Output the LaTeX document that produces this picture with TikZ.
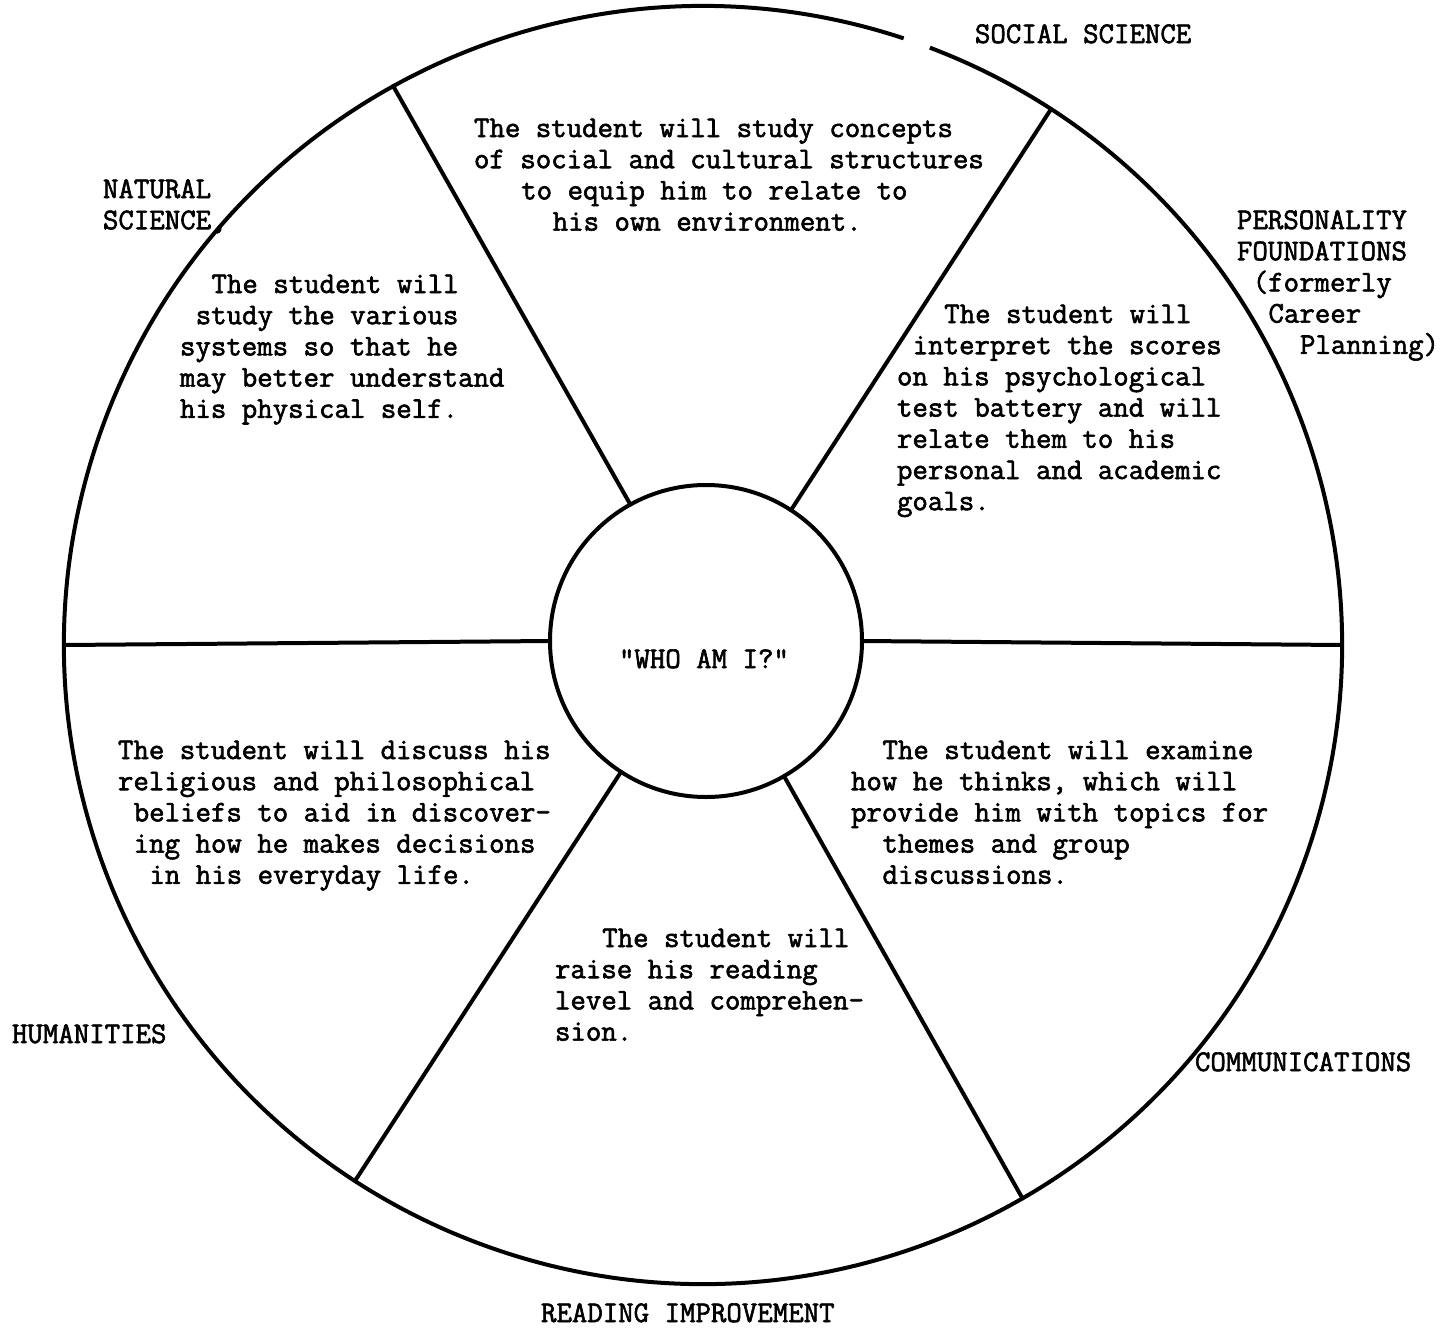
\documentclass[tikz,border=0pt]{standalone}
\usepackage{fontspec}
\newfontfamily\mono[FakeBold=2]{Latin Modern Mono}
\newlength\chw
\setlength\chw{15.75pt}
\newcommand\ind[1]{\hspace*{#1\chw}}
\newcommand\blk[1]{\begin{tabular}[t]{@{}l@{}}#1\end{tabular}}
\begin{document}
\begin{tikzpicture}[x=1pt,y=-1pt,line width=4pt,
  txt/.style={font=\mono\fontsize{30}{31.2}\selectfont, inner sep=0pt, anchor=base west},
  ring/.style={circle, inner sep=0pt, outer sep=0pt},
  spoke/.style={line width=4pt, line cap=round}]
\useasboundingbox (0,0) rectangle (1449,1328);
\fill[white] (0,0) rectangle (1449,1328);
% circles
\node[ring, minimum size=1278pt] (outer) at (703,645) {};
\node[ring, draw, line width=4pt, minimum size=312pt] (inner) at (706,641) {};
\draw[line width=4pt] (outer.center) ++(-69.2:639) arc[start angle=-69.2, end angle=288.3, radius=639];
% spokes
\draw[spoke] (inner.119) -- (outer.119);
\draw[spoke] (inner.57.5) -- (outer.57.5);
\draw[spoke] (inner.180) -- (outer.180);
\draw[spoke] (inner.0) -- (outer.0);
\draw[spoke] (inner.237.7) -- (outer.237.7);
\draw[spoke] (inner.300.2) -- (outer.300.2);
% centre
\node[txt] (who) at (617,668) {"WHO AM I?"};
% sector texts
\node[txt] (tsoc) at (472,137) {\blk{The student will study concepts\\of social and cultural structures\\\ind3to equip him to relate to\\\ind5his own environment.}};
\node[txt] (tnat) at (178,293) {\blk{\ind2The student will\\\ind1study the various\\systems so that he\\may better understand\\his physical self.}};
\node[txt] (tper) at (895,323) {\blk{\ind3The student will\\\ind1interpret the scores\\on his psychological\\test battery and will\\relate them to his\\personal and academic\\goals.}};
\node[txt] (thum) at (116,759) {\blk{The student will discuss his\\religious and philosophical\\\ind1beliefs to aid in discover-\\\ind1ing how he makes decisions\\\ind2in his everyday life.}};
\node[txt] (tcom) at (849,759) {\blk{\ind2The student will examine\\how he thinks, which will\\provide him with topics for\\\ind2themes and group\\\ind2discussions.}};
\node[txt] (trea) at (553,947) {\blk{\ind3The student will\\raise his reading\\level and comprehen-\\sion.}};
% labels
\node[txt] (lsoc) at (973,43) {SOCIAL SCIENCE};
\node[txt] (lnat) at (101,198) {\blk{NATURAL\\SCIENCE,}};
\node[txt] (lper) at (1235,229) {\blk{PERSONALITY\\FOUNDATIONS\\\ind1(formerly\\\ind2Career\\\ind4Planning)}};
\node[txt] (lhum) at (10,1043) {HUMANITIES};
\node[txt] (lcom) at (1193,1071) {COMMUNICATIONS};
\node[txt] (lrea) at (539,1322) {READING IMPROVEMENT};
\end{tikzpicture}
\end{document}
